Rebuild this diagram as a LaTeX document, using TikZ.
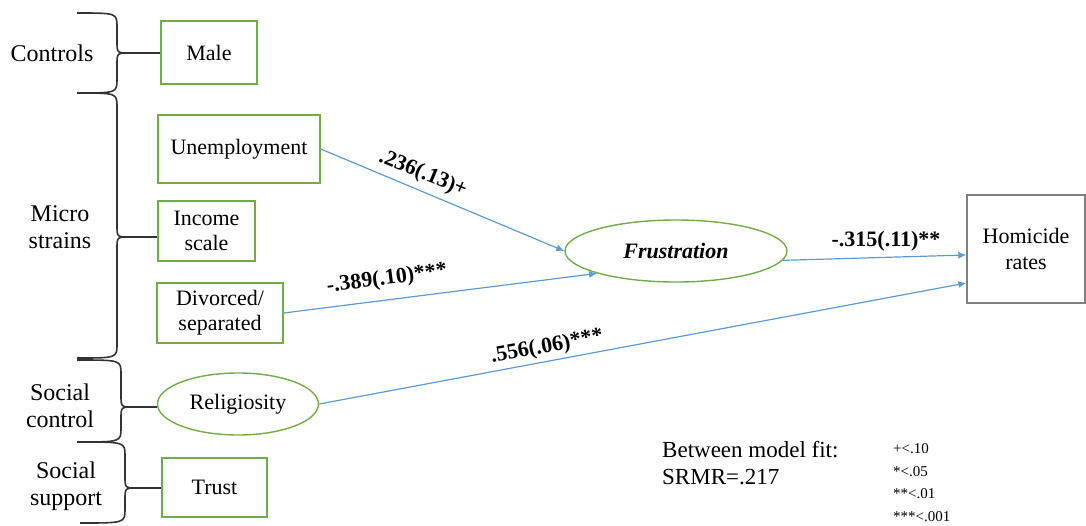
\documentclass[tikz,border=0pt]{standalone}
\usepackage{fontspec}
\setmainfont{Liberation Serif}
\usetikzlibrary{shapes.geometric,arrows.meta}
\definecolor{boxgreen}{HTML}{70AD47}
\definecolor{arrblue}{HTML}{5B9BD5}
\definecolor{boxgrey}{HTML}{7F7F7F}
\newcommand\grpbrace[6]{%
  \draw[bracestyle] (#1,#3) .. controls (#2,#3) and (#2,#3) .. (#2,#3+14) -- (#2,#4-12) .. controls (#2,#4) and (#2,#4) .. (#2+12,#4);
  \draw[bracestyle] (#2+12,#4) .. controls (#2,#4) and (#2,#4) .. (#2,#4+12) -- (#2,#5-14) .. controls (#2,#5) and (#2,#5) .. (#1,#5);
  \coordinate (#6) at (#2+12,#4);
}
\tikzset{
  bracestyle/.style={draw=black!80, line width=1.6pt},
  gbox/.style={draw=boxgreen, line width=1.4pt, inner sep=0pt, align=center, font=\fontsize{22}{25}\selectfont},
  gell/.style={gbox, ellipse},
  hbox/.style={draw=boxgrey, line width=1.4pt, inner sep=0pt, align=center, font=\fontsize{22}{26}\selectfont},
  grplabel/.style={align=center, font=\fontsize{24}{27}\selectfont},
  plabel/.style={font=\bfseries\fontsize{22}{24}\selectfont, inner sep=0pt},
  effect/.style={draw=arrblue, line width=1.2pt, -{Latex[length=8pt,width=7pt]}},
}
\begin{document}
\begin{tikzpicture}[x=1pt,y=-1pt]
\useasboundingbox (0,0) rectangle (1086,525);
% nodes
\node[gbox, minimum width=96, minimum height=63] (male) at (209,52.5) {Male};
\node[gbox, minimum width=162, minimum height=68] (unemp) at (239,149) {Unemployment};
\node[gbox, minimum width=97, minimum height=60] (income) at (206.5,231) {Income\\scale};
\node[gbox, minimum width=126, minimum height=60] (divorced) at (220,313) {Divorced/\\separated};
\node[gell, minimum width=161, minimum height=62] (relig) at (238,404) {Religiosity};
\node[gbox, minimum width=105, minimum height=59] (trust) at (214.5,487.5) {Trust};
\node[gell, minimum width=222, minimum height=62] (frus) at (676,251) {\bfseries\itshape Frustration};
\node[hbox, minimum width=118, minimum height=108] (hom) at (1026,249) {Homicide\\rates};
% group labels
\node[grplabel] (gctrl) at (52,53) {Controls};
\node[grplabel] (gmicro) at (60,227) {Micro\\strains};
\node[grplabel] (gsc) at (60,406) {Social\\control};
\node[grplabel] (gss) at (66,486) {Social\\support};
% braces
\grpbrace{77}{117}{13}{53}{93}{tipA}
\grpbrace{77}{117}{93}{237}{358}{tipB}
\grpbrace{77}{121}{360}{407}{442}{tipC}
\grpbrace{80}{125}{442}{488}{523}{tipD}
\draw[bracestyle] (tipA) -- (tipA -| male.west);
\draw[bracestyle] (tipB) -- (tipB -| income.west);
\draw[bracestyle] (tipC) -- (tipC -| relig.west);
\draw[bracestyle] (tipD) -- (tipD -| trust.west);
% paths
\draw[effect] (unemp.east) -- (frus.west);
\draw[effect] (divorced.east) -- (frus.south west);
\draw[effect] (frus.-5) -- ([yshift=-6pt]hom.west);
\draw[effect] (relig.east) -- ([yshift=-34pt]hom.west);
% path labels
\node[plabel, rotate=-22.5] (l1) at (423,174) {.236(.13)+};
\node[plabel, rotate=7.5] (l2) at (387,279) {-.389(.10)***};
\node[plabel] (l3) at (886,241) {-.315(.11)**};
\node[plabel, rotate=10.5] (l4) at (547,347) {.556(.06)***};
% legend
\node[anchor=west, align=left, inner sep=0pt, font=\fontsize{23}{27}\selectfont] (fit) at (662,463.5) {Between model fit:\\SRMR=.217};
\node[anchor=west, align=left, inner sep=0pt, font=\fontsize{15}{22.5}\selectfont] (sig) at (893,482.5) {+<.10\\*<.05\\**<.01\\***<.001};
\end{tikzpicture}
\end{document}
